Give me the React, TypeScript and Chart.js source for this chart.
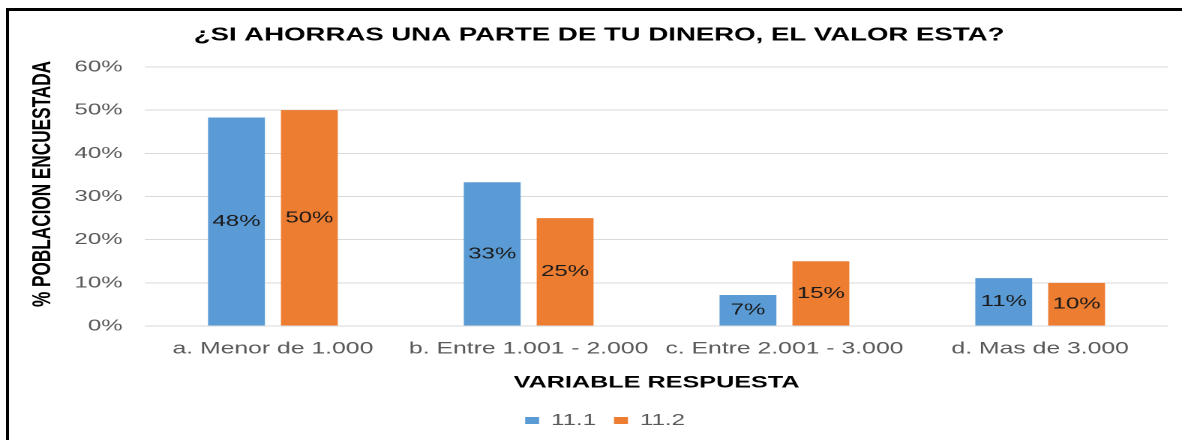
import React, { useEffect, useRef } from "react";
import { Chart, registerables } from "chart.js";

Chart.register(...registerables);

const titleText = "¿SI AHORRAS UNA PARTE DE TU DINERO, EL VALOR ESTA?";
const categories = [
  "a. Menor de 1.000",
  "b. Entre 1.001 - 2.000",
  "c. Entre 2.001 - 3.000",
  "d. Mas de 3.000",
];
const series1Label = "11.1";
const series1Values = [48.3, 33.3, 7.2, 11.1];
const series2Label = "11.2";
const series2Values = [50, 25, 15, 10];
const yTicks = [0, 10, 20, 30, 40, 50, 60];
const xAxisTitle = "VARIABLE RESPUESTA";
const yAxisTitle = "% POBLACION ENCUESTADA";

const STRETCH = 1.5;
const PAGE_W = 1182;
const PAGE_H = 440;
const FONT = "'Liberation Sans', Arial, sans-serif";
const NARROW = "'Liberation Sans Narrow', 'Arial Narrow', " + FONT;

const barLabelPlugin = {
  id: "barLabels",
  afterDatasetsDraw(chart: any) {
    const ctx = chart.ctx;
    ctx.save();
    ctx.font = `16px ${FONT}`;
    ctx.fillStyle = "#1a1a1a";
    ctx.textAlign = "center";
    ctx.textBaseline = "middle";
    chart.data.datasets.forEach((ds: any, i: number) => {
      const meta = chart.getDatasetMeta(i);
      meta.data.forEach((el: any, j: number) => {
        const v = ds.data[j];
        ctx.fillText(`${Math.round(v)}%`, el.x, (el.y + el.base) / 2);
      });
    });
    ctx.restore();
  },
};

const titlesPlugin = {
  id: "titles",
  afterDraw(chart: any) {
    const ctx = chart.ctx;
    ctx.save();
    ctx.fillStyle = "#000";
    ctx.textAlign = "center";
    ctx.textBaseline = "middle";
    ctx.font = `bold 18.4px ${FONT}`;
    ctx.fillText(titleText, 599 / STRETCH, 35.5);
    ctx.translate(43 / STRETCH, 184);
    ctx.rotate(-Math.PI / 2);
    ctx.font = `bold 17.2px ${NARROW}`;
    ctx.fillText(yAxisTitle, 0, 0);
    ctx.restore();
  },
};

export default function App() {
  const canvasRef = useRef<HTMLCanvasElement | null>(null);

  useEffect(() => {
    if (!canvasRef.current) return;
    const chart = new Chart(canvasRef.current, {
      type: "bar",
      data: {
        labels: categories,
        datasets: [
          {
            label: series1Label,
            data: series1Values,
            backgroundColor: "#5B9BD5",
            categoryPercentage: 0.57,
            barPercentage: 0.78,
          },
          {
            label: series2Label,
            data: series2Values,
            backgroundColor: "#ED7D31",
            categoryPercentage: 0.57,
            barPercentage: 0.78,
          },
        ],
      },
      plugins: [barLabelPlugin, titlesPlugin],
      options: {
        animation: false,
        responsive: true,
        maintainAspectRatio: false,
        devicePixelRatio: 2,
        layout: { padding: { top: 67, left: 28, right: 9.3, bottom: 1.5 } },
        plugins: {
          title: { display: false },
          legend: {
            position: "bottom",
            labels: {
              boxWidth: 9.3,
              boxHeight: 7,
              color: "#595959",
              font: { family: FONT, size: 16 },
              padding: 12,
            },
          },
          tooltip: { enabled: false },
        },
        scales: {
          x: {
            grid: { display: false, drawTicks: false },
            border: { display: false },
            ticks: {
              color: "#595959",
              font: { family: FONT, size: 16.5 },
              padding: 13,
              maxRotation: 0,
              autoSkip: false,
            },
            title: {
              display: true,
              text: xAxisTitle,
              color: "#000",
              font: { family: FONT, size: 16.8, weight: "bold" },
              padding: { top: 1, bottom: 7.5 },
            },
          },
          y: {
            min: yTicks[0],
            max: yTicks[yTicks.length - 1],
            afterBuildTicks: (axis: any) => {
              axis.ticks = yTicks.map((v) => ({ value: v }));
            },
            afterFit: (axis: any) => {
              axis.width = 68.7;
            },
            grid: { color: "#d9d9d9", drawTicks: false },
            border: { display: false },
            ticks: {
              color: "#595959",
              font: { family: FONT, size: 16 },
              padding: 15,
              callback: (v: any) => `${v}%`,
            },
          },
        },
      },
    });
    return () => chart.destroy();
  }, []);

  return (
    <div
      style={{
        position: "fixed",
        left: 0,
        top: 0,
        width: PAGE_W,
        height: PAGE_H,
        overflow: "hidden",
        background: "#fff",
      }}
    >
      <div
        style={{
          position: "absolute",
          left: 0,
          top: 0,
          width: PAGE_W / STRETCH,
          height: PAGE_H,
          transform: `scaleX(${STRETCH})`,
          transformOrigin: "0 0",
        }}
      >
        <canvas ref={canvasRef} />
      </div>
      <div
        style={{
          position: "absolute",
          left: 6,
          top: 8,
          width: PAGE_W + 20,
          height: PAGE_H + 20,
          borderTop: "3px solid #000",
          borderLeft: "3px solid #000",
          pointerEvents: "none",
        }}
      />
    </div>
  );
}
